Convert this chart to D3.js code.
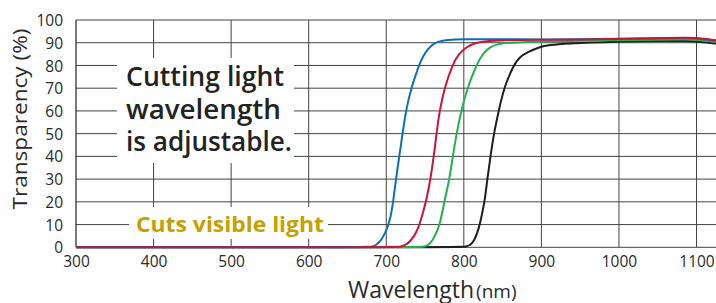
<!DOCTYPE html>
<html>
<head>
<meta charset="utf-8">
<script src="https://cdn.jsdelivr.net/npm/d3@7"></script>
<style>
  html, body { margin: 0; padding: 0; background: #fff; }
  svg { display: block; }
  text { font-family: "Open Sans", "Noto Sans", sans-serif; }
</style>
</head>
<body>
<svg id="chart" width="716" height="303"></svg>
<script>
// ---- data ----
const xTicks = [300, 400, 500, 600, 700, 800, 900, 1000, 1100];
const yTicks = [0, 10, 20, 30, 40, 50, 60, 70, 80, 90, 100];

const blackSeries = [[300,0],[797,0],[803,0.3],[808,1],[813,2.5],[819,7.6],[823.7,15],[827,20.5],[830.3,30],[834.4,40],[838.7,50],[845,60],[851.5,70],[864,80],[872,83.8],[882,85.8],[897,88.2],[912,89],[927,89.6],[1000,90.6],[1050,90.8],[1090,90.8],[1110,90.3],[1126,89.5]];
const greenSeries = [[300,0],[742,0],[749,0.3],[754,1],[759,2.5],[767.8,8.4],[772,15],[775.5,21],[781.5,30],[785.8,40],[790.6,50],[796.6,60],[804.4,70],[816,80],[824,85],[834,88.3],[845,89.5],[856,90],[900,90.6],[1000,91.1],[1050,91.3],[1090,91.5],[1110,91],[1126,90.2]];
const blueSeries  = [[300,0],[675,0],[682,0.3],[687,1],[692,2.4],[699,6.2],[705,12],[709,20],[712.5,30],[716.8,40],[721,50],[725.3,60],[732,70],[742,80],[748,84.5],[754.5,87.5],[760,89.3],[766,90.4],[778,91.3],[800,91.6],[850,91.6],[900,91.4],[950,91.5],[1000,91.7],[1050,92],[1090,92.2],[1110,91.6],[1126,90.8]];
const redSeries   = [[300,0],[712,0],[719,0.3],[725,1],[731,2.5],[740,6.9],[746,13.5],[752,21],[757,30],[761.3,40],[764.8,50],[768.7,60],[775,70],[785,80],[793,85],[804,88.3],[815,89.9],[825,90.6],[850,91.2],[900,91.3],[1000,91.6],[1050,92],[1090,92.3],[1110,91.8],[1126,91]];

const seriesList = [
  { name: "black", color: "#1e1e1e", data: blackSeries },
  { name: "green", color: "#22b24c", data: greenSeries },
  { name: "blue",  color: "#0a6fc0", data: blueSeries },
  { name: "red",   color: "#c8153a", data: redSeries }
];

const annotationLines = ["Cutting light", "wavelength", "is adjustable."];
const visibleLabel = "Cuts visible light";
const xTitle = "Wavelength";
const xUnit = "(nm)";
const yTitle = "Transparency (%)";

// ---- layout ----
const svg = d3.select("#chart");
const pLeft = 76, pRight = 716, pTop = 20, pBottom = 247.3;
const x = d3.scaleLinear().domain([300, 1100]).range([pLeft, 696.5]);
const y = d3.scaleLinear().domain([0, 100]).range([pBottom, pTop]);

svg.append("defs").append("clipPath").attr("id", "plotclip")
  .append("rect").attr("x", pLeft).attr("y", 0).attr("width", pRight - pLeft).attr("height", 303);

// grid
const grid = svg.append("g").attr("stroke", "#444").attr("stroke-width", 1).attr("clip-path", "url(#plotclip)");
grid.selectAll("line.h").data(yTicks).join("line").attr("class", "h")
  .attr("x1", pLeft).attr("x2", pRight)
  .attr("y1", d => y(d)).attr("y2", d => y(d));
grid.selectAll("line.v").data(xTicks.filter(d => d > 300)).join("line").attr("class", "v")
  .attr("x1", d => x(d)).attr("x2", d => x(d))
  .attr("y1", pTop).attr("y2", pBottom);

// y axis line
svg.append("line").attr("x1", pLeft).attr("x2", pLeft).attr("y1", pTop).attr("y2", pBottom)
  .attr("stroke", "#222").attr("stroke-width", 1.2);

// axes tick labels through d3 axes
const yAxis = svg.append("g").attr("transform", `translate(${pLeft},0)`)
  .call(d3.axisLeft(y).tickValues(yTicks).tickSize(0).tickPadding(13));
yAxis.select(".domain").remove();
yAxis.selectAll("text").attr("font-size", 15.5).attr("fill", "#2a2a2a")
  .attr("font-family", "'Open Sans', sans-serif").attr("font-weight", 400).attr("dy", "0.36em");

const xAxis = svg.append("g").attr("transform", `translate(0,${pBottom})`)
  .call(d3.axisBottom(x).tickValues(xTicks).tickSize(0).tickPadding(9).tickFormat(d3.format("d")));
xAxis.select(".domain").remove();
xAxis.selectAll("text").attr("font-size", 15.5).attr("fill", "#2a2a2a")
  .attr("font-family", "'Open Sans', sans-serif").attr("font-weight", 400);

// annotation boxes
svg.append("rect").attr("x", 117).attr("y", 58).attr("width", 177).attr("height", 105).attr("fill", "#fff");
svg.append("rect").attr("x", 129).attr("y", 207).attr("width", 199).attr("height", 32).attr("fill", "#fff");

// curves
const line = d3.line().x(d => x(d[0])).y(d => y(d[1])).curve(d3.curveBasis);
svg.append("g").attr("clip-path", "url(#plotclip)")
  .selectAll("path").data(seriesList).join("path")
  .attr("d", d => line(d.data))
  .attr("fill", "none").attr("stroke", d => d.color).attr("stroke-width", 2)
  .attr("stroke-linejoin", "round");

// annotation text (one text block, three lines)
const baselines = [86, 118.5, 151];
const lineWidths = [158, 155, 166];
svg.append("text")
  .attr("font-size", 27).attr("font-weight", 600).attr("fill", "#222")
  .selectAll("tspan").data(annotationLines).join("tspan")
  .attr("x", 126).attr("y", (d, i) => baselines[i])
  .attr("textLength", (d, i) => lineWidths[i]).attr("lengthAdjust", "spacingAndGlyphs")
  .text(d => d);

svg.append("text").attr("x", 136).attr("y", 231.5)
  .attr("font-size", 22).attr("font-weight", 700).attr("fill", "#c69f00")
  .attr("textLength", 188).attr("lengthAdjust", "spacingAndGlyphs")
  .text(visibleLabel);

// axis titles
const xt = svg.append("text").attr("x", 348).attr("y", 297.5).attr("fill", "#2a2a2a");
xt.append("tspan").attr("font-size", 23).text(xTitle);
xt.append("tspan").attr("font-size", 19).attr("dx", 2).text(xUnit);

svg.append("text").attr("transform", "translate(27,119) rotate(-90)")
  .attr("text-anchor", "middle").attr("font-size", 20.5).attr("fill", "#2a2a2a")
  .attr("textLength", 181).attr("lengthAdjust", "spacingAndGlyphs")
  .text(yTitle);
</script>
</body>
</html>
